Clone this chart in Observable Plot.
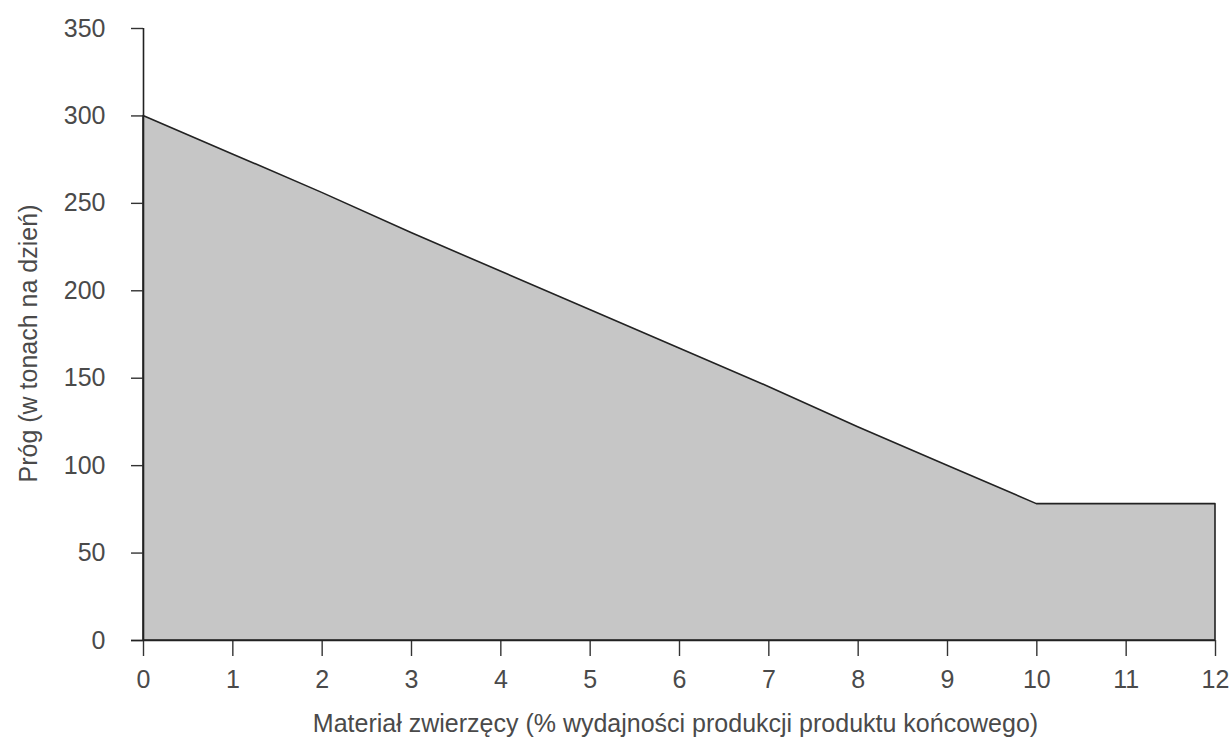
<!DOCTYPE html>
<html>
<head>
<meta charset="utf-8">
<script src="https://cdn.jsdelivr.net/npm/d3@7"></script>
<script src="https://cdn.jsdelivr.net/npm/@observablehq/plot@0.6"></script>
<style>
  html, body { margin: 0; padding: 0; background: #fff; }
  #chart svg { display: block; }
</style>
</head>
<body>
<div id="chart"></div>
<script>
// Data
const materialPct = [0, 1, 2, 3, 4, 5, 6, 7, 8, 9, 10, 11, 12];
const thresholdTons = [300, 278, 256, 233, 211, 189, 167, 145, 122, 100, 78, 78, 78];
const xTicks = [0, 1, 2, 3, 4, 5, 6, 7, 8, 9, 10, 11, 12];
const yTicks = [0, 50, 100, 150, 200, 250, 300, 350];
const xTitle = "Materiał zwierzęcy (% wydajności produkcji produktu końcowego)";
const yTitle = "Próg (w tonach na dzień)";

const data = materialPct.map((x, i) => ({x, y: thresholdTons[i]}));

const textColor = "#4a4a4a";
const fs = 25;
const chart = Plot.plot({
  width: 1231,
  height: 747,
  marginLeft: 143,
  marginRight: 16,
  marginTop: 28,
  marginBottom: 107,
  style: {fontFamily: "'Liberation Sans', Arial, sans-serif", fontSize: fs + "px", color: textColor, background: "#fff"},
  x: {domain: [0, 12], ticks: xTicks},
  y: {domain: [0, 350], ticks: yTicks},
  marks: [
    Plot.areaY(data, {x: "x", y: "y", fill: "#c6c6c6", stroke: "#222", strokeWidth: 1.6}),
    Plot.axisX({ticks: xTicks, tickSize: 16, tickPadding: 14, label: null, stroke: "#333", strokeWidth: 1.4, color: textColor, fontSize: fs}),
    Plot.axisY({ticks: yTicks, tickSize: 12, tickPadding: 26, label: null, stroke: "#333", strokeWidth: 1.4, color: textColor, fontSize: fs}),
    Plot.ruleY([0], {stroke: "#222", strokeWidth: 1.6, insetLeft: -12}),
    Plot.ruleX([0], {stroke: "#222", strokeWidth: 1.6}),
    Plot.text([xTitle], {frameAnchor: "bottom", textAnchor: "middle", lineAnchor: "middle", dy: 83, dx: -4, fill: textColor, fontSize: fs}),
    Plot.text([yTitle], {frameAnchor: "left", textAnchor: "middle", lineAnchor: "middle", rotate: -90, dx: -115, dy: 9, fill: textColor, fontSize: fs})
  ]
});
document.getElementById("chart").appendChild(chart);
</script>
</body>
</html>
